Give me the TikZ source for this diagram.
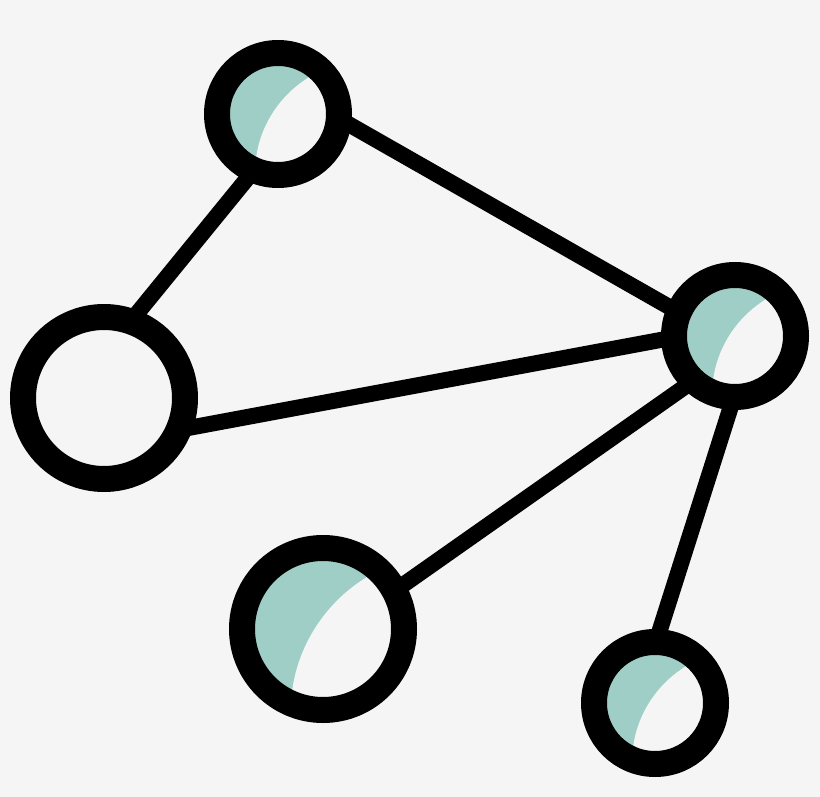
\documentclass[tikz,border=0pt]{standalone}
\usetikzlibrary{calc}
\definecolor{bgc}{HTML}{F5F5F5}
\definecolor{tealc}{HTML}{9ECEC6}
\pgfdeclarelayer{bglayer}
\pgfdeclarelayer{edgelayer}
\pgfsetlayers{bglayer,edgelayer,main}
\begin{document}
\begin{tikzpicture}[x=0.5pt,y=-0.5pt,
  ring/.style={circle,draw=black,line width=13pt,inner sep=0pt},
  smallnode/.style={ring,minimum size=61pt},
  bignode/.style={ring,minimum size=81pt},
  link/.style={line width=8pt,draw=black,shorten <=-4pt,shorten >=-4pt}]
\begin{pgfonlayer}{bglayer}
\fill[bgc] (0,0) rectangle (820,797);
\end{pgfonlayer}
\useasboundingbox (0,0) rectangle (820,797);
\node[smallnode] (T) at (278,114) {};
\node[bignode] (L) at (104,398) {};
\node[smallnode] (R) at (735,336) {};
\node[bignode] (B) at (323,629) {};
\node[smallnode] (BR) at (655,703) {};
\begin{pgfonlayer}{edgelayer}
\draw[link] (T.244.8) -- (L.68.7);
\draw[link] (T.351.5) -- (R.156.8);
\draw[link] (L.342.2) -- (R.183.7);
\draw[link] (B.29.4) -- (R.225);
\draw[link] (R.266.1) -- (BR.86.1);
\foreach \n/\r in {T/48,R/48,BR/48,B/67.5} {
  \begin{scope}
    \clip (\n.center) circle[radius=\r*0.5pt+1pt];
    \fill[tealc] (\n.center) circle[radius=\r*0.5pt+1pt];
    \fill[bgc] ($(\n.center)+(1.87*\r,1.24*\r)$) circle[radius=2.35*\r*0.5pt];
  \end{scope}
}
\end{pgfonlayer}
\end{tikzpicture}
\end{document}
